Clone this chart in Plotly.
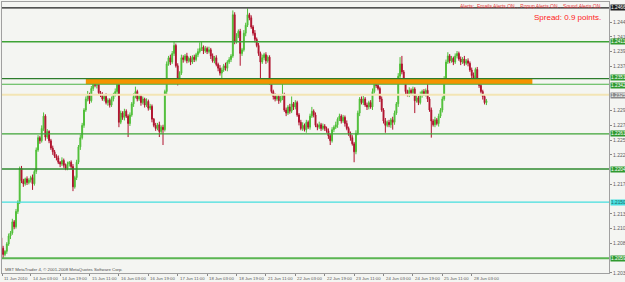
import plotly.graph_objects as go

# ---- data (prices stored as pips above 1.2000) ----
BASE = 1.2000
open0_pips = 92
close_pips = [
    75, 65, 70, 82, 95, 100, 118, 110, 135, 150,
    205, 185, 180, 188, 182, 186, 190, 180, 200, 235,
    255, 250, 270, 290, 256, 265, 250, 238, 232, 225,
    222, 215, 212, 218, 210, 205, 212, 215, 208, 175,
    190, 215, 240, 255, 275, 300, 318, 325, 315, 335,
    345, 340, 343, 328, 325, 318, 322, 312, 316, 308,
    318, 325, 330, 345, 280, 295, 288, 298, 290, 278,
    292, 310, 322, 330, 318, 322, 312, 318, 308, 314,
    303, 306, 285, 275, 270, 276, 265, 272, 268, 330,
    375, 385, 378, 392, 405, 372, 352, 360, 385, 382,
    388, 380, 384, 378, 386, 382, 390, 395, 400, 402,
    396, 400, 395, 398, 388, 380, 385, 374, 368, 360,
    365, 372, 368, 378, 382, 388, 455, 412, 420, 428,
    392, 398, 425, 438, 455, 450, 435, 425, 415, 405,
    392, 378, 385, 390, 380, 386, 345, 330, 322, 318,
    322, 315, 320, 325, 300, 295, 305, 298, 310, 305,
    312, 292, 280, 270, 275, 268, 280, 272, 290, 298,
    292, 275, 272, 276, 270, 274, 270, 266, 258, 250,
    268, 272, 276, 285, 290, 282, 288, 278, 270, 262,
    255, 245, 232, 262, 295, 318, 312, 318, 308, 305,
    312, 305, 330, 342, 340, 335, 318, 300, 282, 275,
    280, 276, 284, 280, 295, 310, 355, 375, 362, 345,
    330, 325, 332, 328, 334, 315, 320, 312, 325, 330,
    326, 332, 318, 300, 282, 276, 284, 278, 290, 300,
    318, 350, 378, 388, 380, 384, 378, 388, 392, 383,
    378, 383, 376, 380, 376, 365, 356, 352, 366, 345,
    340, 330, 322, 312, 315,
]
upper_wick_pips = [
    3, 4, 2, 3, 4, 3, 5, 3, 4, 3,
    3, 4, 3, 2, 4, 3, 3, 5, 3, 4,
    4, 3, 5, 6, 3, 4, 2, 3, 4, 3,
    3, 4, 2, 5, 3, 3, 4, 2, 3, 4,
    3, 4, 3, 5, 4, 3, 4, 6, 3, 4,
    5, 3, 4, 2, 3, 4, 3, 5, 3, 3,
    4, 3, 5, 3, 2, 4, 3, 4, 3, 3,
    4, 3, 5, 8, 3, 4, 3, 4, 2, 5,
    3, 4, 3, 2, 4, 3, 5, 3, 4, 3,
    4, 3, 5, 4, 7, 3, 4, 3, 5, 4,
    3, 5, 3, 4, 3, 4, 3, 5, 10, 9,
    3, 4, 3, 5, 3, 4, 3, 4, 3, 5,
    4, 3, 5, 3, 4, 3, 7, 4, 5, 3,
    4, 3, 5, 4, 10, 3, 4, 3, 5, 3,
    4, 3, 5, 3, 4, 3, 3, 4, 3, 5,
    3, 4, 3, 27, 3, 4, 3, 5, 12, 3,
    4, 3, 3, 4, 5, 3, 4, 3, 4, 7,
    3, 4, 3, 5, 3, 4, 3, 3, 4, 3,
    4, 3, 5, 3, 4, 3, 4, 3, 5, 3,
    3, 4, 3, 5, 4, 3, 4, 5, 3, 4,
    3, 4, 5, 8, 3, 4, 3, 4, 3, 5,
    3, 4, 3, 5, 4, 3, 5, 11, 13, 3,
    4, 3, 5, 3, 4, 3, 4, 3, 5, 3,
    4, 3, 13, 3, 4, 3, 5, 3, 4, 3,
    4, 5, 4, 6, 3, 4, 3, 4, 4, 3,
    4, 3, 5, 3, 4, 3, 4, 5, 3, 4,
    3, 4, 3, 4, 3,
]
lower_wick_pips = [
    4, 7, 3, 4, 3, 5, 3, 4, 3, 4,
    3, 4, 5, 3, 4, 3, 4, 10, 3, 4,
    3, 5, 3, 4, 6, 3, 4, 3, 5, 3,
    4, 3, 5, 3, 4, 3, 3, 4, 5, 7,
    3, 4, 3, 5, 3, 4, 3, 4, 5, 3,
    4, 3, 5, 3, 4, 3, 4, 3, 5, 4,
    3, 4, 3, 5, 8, 3, 4, 5, 3, 22,
    4, 3, 5, 3, 4, 3, 5, 3, 4, 3,
    4, 3, 5, 3, 4, 3, 9, 4, 25, 3,
    4, 3, 5, 3, 4, 3, 12, 4, 3, 5,
    3, 4, 3, 5, 3, 4, 3, 4, 3, 4,
    5, 3, 4, 3, 5, 3, 4, 3, 5, 4,
    8, 3, 4, 5, 3, 4, 3, 5, 4, 3,
    20, 4, 3, 5, 3, 4, 3, 4, 5, 3,
    4, 28, 3, 4, 5, 3, 4, 3, 5, 4,
    3, 5, 3, 4, 3, 5, 3, 4, 3, 5,
    4, 3, 5, 3, 4, 3, 5, 3, 4, 3,
    4, 3, 5, 3, 4, 3, 4, 3, 5, 7,
    3, 4, 3, 5, 3, 4, 3, 5, 3, 4,
    5, 3, 17, 4, 3, 5, 3, 4, 3, 5,
    4, 3, 5, 3, 4, 3, 5, 3, 4, 12,
    3, 4, 5, 12, 4, 3, 5, 3, 4, 3,
    5, 3, 4, 3, 5, 20, 3, 4, 3, 5,
    3, 4, 5, 3, 27, 3, 4, 3, 5, 3,
    4, 3, 5, 3, 4, 3, 5, 3, 4, 3,
    5, 3, 4, 3, 5, 3, 4, 3, 5, 3,
    4, 3, 5, 3, 4,
]

time_labels = ["11 Jun 2010", "14 Jun 03:00", "14 Jun 19:00", "15 Jun 11:00",
               "16 Jun 03:00", "16 Jun 19:00", "17 Jun 11:00", "18 Jun 03:00",
               "18 Jun 19:00", "21 Jun 11:00", "22 Jun 03:00", "22 Jun 19:00",
               "23 Jun 11:00", "24 Jun 03:00", "24 Jun 19:00", "25 Jun 11:00",
               "28 Jun 03:00"]
time_label_bars = [0.5] + [16 * k for k in range(1, 17)]

price_ticks = [1.2035, 1.2083, 1.2107, 1.2131, 1.2179, 1.2227, 1.2251,
               1.2275, 1.2299, 1.2371, 1.2395, 1.2419, 1.2443]

# horizontal lines: (price, colour, width, label bg, label fg, label shift px)
hlines = [
    (1.2466, "#1e1e1e", 1.2, "#1e1e1e", "#ffffff", 0),
    (1.2411, "#3ea336", 1.3, "#2f9a2f", "#ffffff", 0),
    (1.2351, "#2c7d2c", 1.1, "#2f9a2f", "#ffffff", 1.5),
    (1.2342, "#4db348", 1.1, "#2f9a2f", "#ffffff", -1.5),
    (1.2325, "#f3e5b5", 2.0, "#8a8a8a", "#ffffff", -1),
    (1.2261, "#3ea336", 1.3, "#2f9a2f", "#ffffff", 0),
    (1.2204, "#2f8a2f", 1.3, "#2f9a2f", "#ffffff", 0),
    (1.2150, "#45dede", 1.3, "#45dede", "#2a6a6a", 0),
    (1.2059, "#5ab552", 2.0, "#2f9a2f", "#ffffff", 0),
]
zone_low, zone_high = 1.2342, 1.2351
zone_start_bar, zone_end_bar = 46, 289

# ---- build ----
n = len(close_pips)
closes = [BASE + p / 1e4 for p in close_pips]
opens = [BASE + open0_pips / 1e4] + closes[:-1]
highs = [max(o, c) + u / 1e4 for o, c, u in zip(opens, closes, upper_wick_pips)]
lows = [min(o, c) - l / 1e4 for o, c, l in zip(opens, closes, lower_wick_pips)]
bars = list(range(n))

fig = go.Figure()
fig.add_trace(go.Candlestick(
    x=bars, open=opens, high=highs, low=lows, close=closes,
    increasing=dict(line=dict(color="#4fbf38", width=1), fillcolor="#4fbf38"),
    decreasing=dict(line=dict(color="#b0122e", width=1), fillcolor="#b0122e"),
    whiskerwidth=0, showlegend=False, hoverinfo="skip",
))

shapes = []
shapes.append(dict(type="rect", xref="x", yref="y", x0=zone_start_bar, x1=zone_end_bar,
                   y0=zone_low, y1=zone_high, fillcolor="#f59300", line=dict(width=0),
                   layer="above"))
for price, col, w, _, _, _ in hlines:
    shapes.append(dict(type="line", xref="paper", yref="y", x0=0, x1=1, y0=price, y1=price,
                       line=dict(color=col, width=w), layer="above"))

annotations = []
for price, col, w, bg, fg, sh in hlines:
    annotations.append(dict(xref="paper", yref="y", x=1, y=price, xanchor="left",
                            yanchor="middle", xshift=1, yshift=sh, text=f"{price:.5f}",
                            showarrow=False, bgcolor=bg,
                            font=dict(size=4.8, color=fg, family="Liberation Sans"),
                            borderpad=0))
for b, t in zip(time_label_bars, time_labels):
    annotations.append(dict(xref="x", yref="paper", x=b, y=0, xanchor="left", yanchor="top",
                            yshift=-1, text=t, showarrow=False,
                            font=dict(size=4.3, color="#5a5a5a", family="Liberation Sans")))
annotations.append(dict(xref="paper", yref="paper", x=0.990, y=0.985, xanchor="right",
                        yanchor="middle", showarrow=False,
                        text="Alerts:  Emails Alerts ON ,  Popup Alerts ON ,  Sound Alerts ON",
                        font=dict(size=5, color="#e8393c", family="Liberation Sans")))
annotations.append(dict(xref="paper", yref="paper", x=0.990, y=0.942, xanchor="right",
                        yanchor="middle", showarrow=False, text="Spread: 0.9 points.",
                        font=dict(size=8, color="#ff2222", family="Liberation Sans")))
annotations.append(dict(xref="paper", yref="paper", x=0.002, y=0.012, xanchor="left",
                        yanchor="middle", showarrow=False,
                        text="MBT MetaTrader 4, © 2001-2008 MetaQuotes Software Corp.",
                        font=dict(size=4.3, color="#505050", family="Liberation Sans")))

fig.update_layout(
    width=625, height=282,
    margin=dict(l=2, r=16, t=2, b=9, autoexpand=False),
    plot_bgcolor="#f4f5f2", paper_bgcolor="#f4f5f2",
    shapes=shapes, annotations=annotations,
    xaxis=dict(range=[0.38, 330.7], rangeslider=dict(visible=False), showgrid=False,
               zeroline=False, showticklabels=False, tickmode="array", automargin=False,
               tickvals=time_label_bars, ticks="outside", ticklen=2, tickcolor="#888",
               showline=True, linecolor="#a0a0a0", mirror=True),
    yaxis=dict(range=[1.20348, 1.24757], side="right", showgrid=False, zeroline=False,
               tickmode="array", tickvals=price_ticks, automargin=False,
               ticktext=[f"{v:.5f}" for v in price_ticks], ticks="outside", ticklen=2,
               tickcolor="#888", tickfont=dict(size=5, color="#606060", family="Liberation Sans"),
               showline=True, linecolor="#a0a0a0", mirror=True),
)

fig.write_html("out.html")
